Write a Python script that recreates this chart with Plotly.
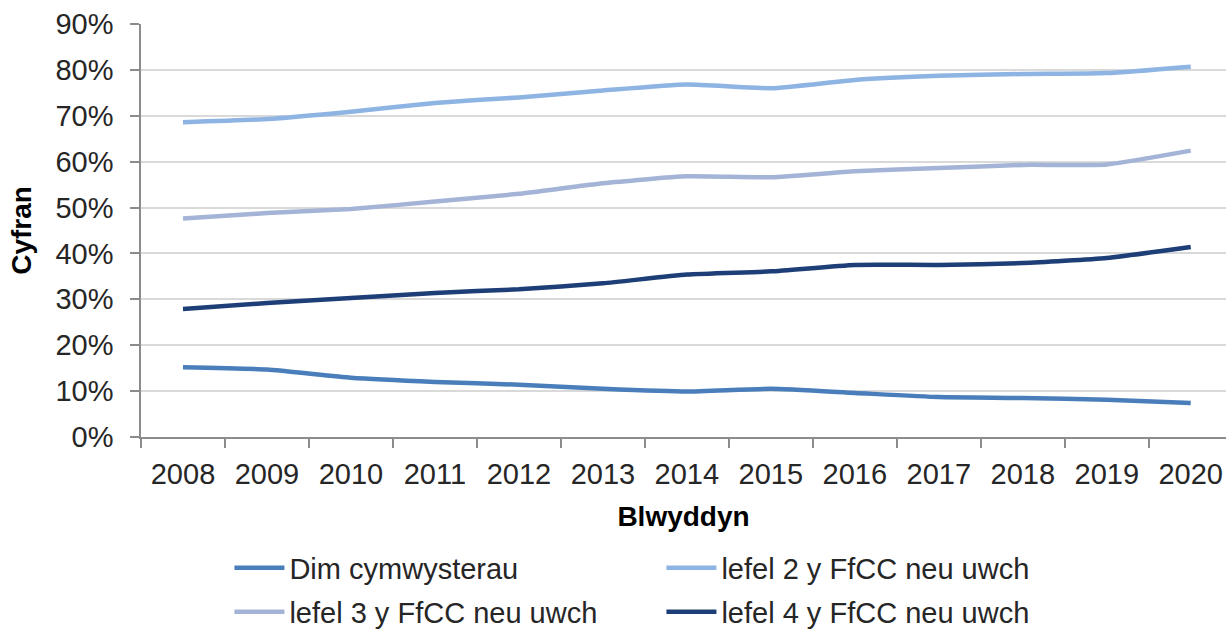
import plotly.graph_objects as go

years = ["2008", "2009", "2010", "2011", "2012", "2013", "2014",
         "2015", "2016", "2017", "2018", "2019", "2020"]

dim_cymwysterau = [15.2, 14.7, 12.9, 12.0, 11.4, 10.5, 9.9, 10.5, 9.6, 8.7, 8.5, 8.1, 7.4]
lefel2 = [68.6, 69.3, 70.9, 72.8, 74.0, 75.5, 76.8, 76.0, 77.8, 78.7, 79.1, 79.3, 80.7]
lefel3 = [47.6, 48.8, 49.7, 51.3, 53.0, 55.3, 56.8, 56.6, 57.9, 58.6, 59.3, 59.4, 62.4]
lefel4 = [27.9, 29.2, 30.3, 31.4, 32.2, 33.5, 35.4, 36.1, 37.5, 37.5, 37.9, 39.0, 41.4]

series = [
    ("Dim cymwysterau", dim_cymwysterau, "#4a7ebb", "legend"),
    ("lefel 2 y FfCC neu uwch", lefel2, "#8db4e2", "legend"),
    ("lefel 3 y FfCC neu uwch", lefel3, "#a4b4d6", "legend2"),
    ("lefel 4 y FfCC neu uwch", lefel4, "#1d3e76", "legend2"),
]

yticks = [0, 10, 20, 30, 40, 50, 60, 70, 80, 90]

fig = go.Figure()
for name, vals, col, lg in series:
    fig.add_trace(go.Scatter(
        x=years, y=vals, name=name, mode="lines", legend=lg,
        line=dict(color=col, width=4.5, shape="spline", smoothing=0.5),
    ))

font_family = "Liberation Sans, Arial, sans-serif"
txt = "#262626"
fs = 29

legend_common = dict(
    orientation="h", x=0.0815, xanchor="left", yref="container", yanchor="middle",
    entrywidth=367, entrywidthmode="pixels",
    font=dict(size=fs, color=txt), itemwidth=50, traceorder="normal",
    bgcolor="rgba(0,0,0,0)",
)

fig.update_layout(
    width=1226, height=631,
    margin=dict(l=140.5, r=0, t=24, b=194),
    paper_bgcolor="white", plot_bgcolor="white",
    font=dict(family=font_family, size=fs, color=txt),
    showlegend=True,
    legend=dict(y=1 - 568 / 631, **legend_common),
    legend2=dict(y=1 - 612 / 631, **legend_common),
    xaxis=dict(
        type="category", range=[-0.5, 12.42], automargin=False,
        tickson="boundaries", ticks="outside", ticklen=9, tickwidth=1.5,
        tickcolor="#8c8c8c", showline=True, linecolor="#8c8c8c", linewidth=1.5,
        showgrid=False, tickfont=dict(size=fs, color=txt),
        ticklabelstandoff=10,
        title=dict(text="<b>Blwyddyn</b>", font=dict(size=28, color="black"), standoff=18),
    ),
    yaxis=dict(
        range=[0, 90], tickvals=yticks, ticktext=[f"{v}%" for v in yticks],
        automargin=False,
        ticks="outside", ticklen=9, tickwidth=1.5, tickcolor="#8c8c8c",
        showline=True, linecolor="#8c8c8c", linewidth=1.5,
        showgrid=True, gridcolor="#d9d9d9", gridwidth=1.5,
        zeroline=False, tickfont=dict(size=fs, color=txt),
        ticklabelstandoff=11,
        title=dict(text="<b>Cyfran</b>", font=dict(size=28, color="black"), standoff=16),
    ),
)

fig.write_html(
    "out.html",
    config={"displayModeBar": False},
    post_script="document.body.style.margin='0';document.body.style.overflow='hidden';",
)
